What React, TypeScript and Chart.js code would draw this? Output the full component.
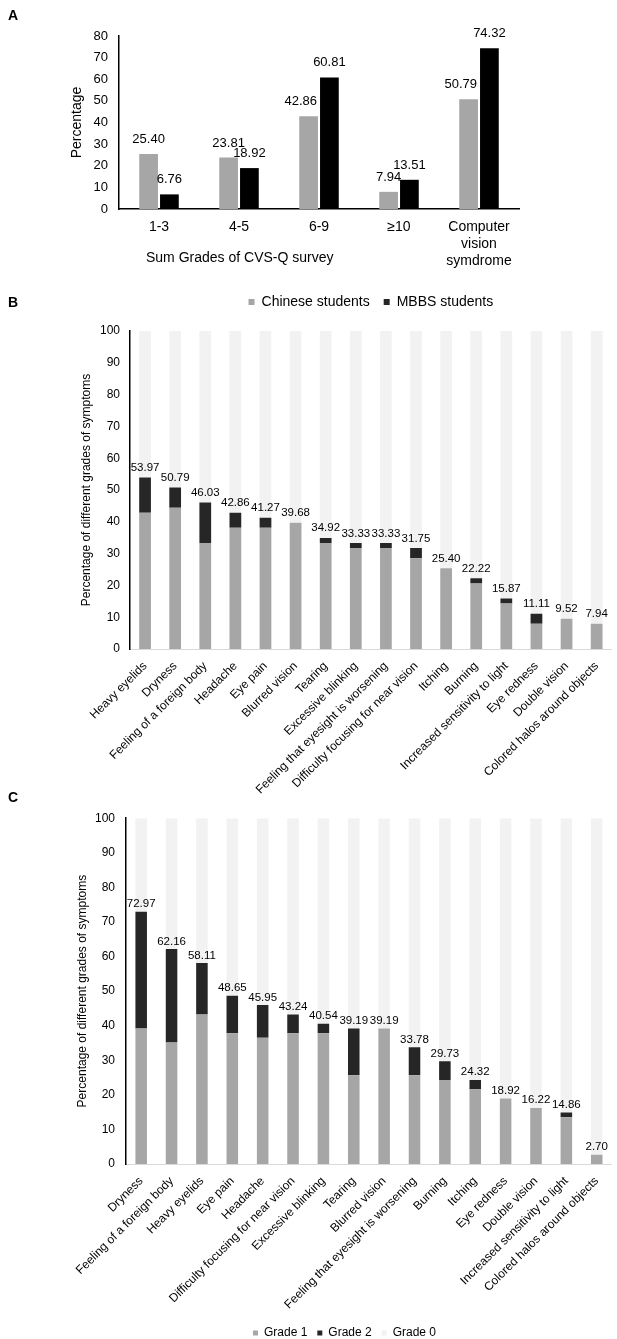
import React, { useEffect, useRef } from 'react';
import { Chart, registerables } from 'chart.js';

Chart.register(...registerables);

const FONT = "'Liberation Sans', Arial, Helvetica, sans-serif";
Chart.defaults.font.family = FONT;
Chart.defaults.color = '#000';

// ---------- Panel A ----------
const gradeCategories: (string | string[])[] = ['1-3', '4-5', '6-9', '≥10', ['Computer', 'vision', 'symdrome']];
const chineseSum = [25.4, 23.81, 42.86, 7.94, 50.79];
const mbbsSum = [6.76, 18.92, 60.81, 13.51, 74.32];

// ---------- Panel B (Chinese students) ----------
const symptomsB = [
  'Heavy eyelids', 'Dryness', 'Feeling of a foreign body', 'Headache', 'Eye pain', 'Blurred vision',
  'Tearing', 'Excessive blinking', 'Feeling that eyesight is worsening', 'Difficulty focusing for near vision',
  'Itching', 'Burning', 'Increased sensitivity to light', 'Eye redness', 'Double vision', 'Colored halos around objects',
];
const totalB = [53.97, 50.79, 46.03, 42.86, 41.27, 39.68, 34.92, 33.33, 33.33, 31.75, 25.4, 22.22, 15.87, 11.11, 9.52, 7.94];
const grade1B = [42.86, 44.44, 33.33, 38.1, 38.1, 39.68, 33.33, 31.75, 31.75, 28.57, 25.4, 20.63, 14.29, 7.94, 9.52, 7.94];

// ---------- Panel C (MBBS students) ----------
const symptomsC = [
  'Dryness', 'Feeling of a foreign body', 'Heavy eyelids', 'Eye pain', 'Headache', 'Difficulty focusing for near vision',
  'Excessive blinking', 'Tearing', 'Blurred vision', 'Feeling that eyesight is worsening', 'Burning', 'Itching',
  'Eye redness', 'Double vision', 'Increased sensitivity to light', 'Colored halos around objects',
];
const totalC = [72.97, 62.16, 58.11, 48.65, 45.95, 43.24, 40.54, 39.19, 39.19, 33.78, 29.73, 24.32, 18.92, 16.22, 14.86, 2.7];
const grade1C = [39.19, 35.14, 43.24, 37.84, 36.49, 37.84, 37.84, 25.68, 39.19, 25.68, 24.32, 21.62, 18.92, 16.22, 13.51, 2.7];

const minus = (a: number[], b: number[]) => a.map((v, i) => +(v - b[i]).toFixed(2));
const rest = (a: number[]) => a.map((v) => +(100 - v).toFixed(2));

const GREY = '#a6a6a6';
const DARK = '#262626';
const LIGHT = '#f2f2f2';

// value labels above clustered bars; a grey label that would run into the taller
// neighbouring black bar is nudged to the left of it (as the spreadsheet does)
function groupLabels(values: number[][], size: number, gap: number) {
  return {
    id: 'groupLabels',
    afterDatasetsDraw(chart: any) {
      const ctx = chart.ctx;
      ctx.save();
      ctx.font = `${size}px ${FONT}`;
      ctx.fillStyle = '#000';
      ctx.textAlign = 'center';
      ctx.textBaseline = 'alphabetic';
      const m0 = chart.getDatasetMeta(0);
      const m1 = chart.getDatasetMeta(1);
      values.forEach((vals, di) => {
        const meta = chart.getDatasetMeta(di);
        meta.data.forEach((el: any, j: number) => {
          const text = vals[j].toFixed(2);
          let x = el.x;
          const y = el.y - gap;
          if (di === 0) {
            const nb = m1.data[j];
            const w = ctx.measureText(text).width;
            const mid = y - size * 0.38;
            if (nb && nb.y < mid) {
              const limit = nb.x - nb.width / 2 - 3 - w / 2;
              if (x > limit) x = limit;
            }
          }
          ctx.fillText(text, x, y);
        });
      });
      void m0;
      ctx.restore();
    },
  };
}

function stackLabels(totals: number[], topIndex: number, size: number, gap: number) {
  return {
    id: 'stackLabels',
    afterDatasetsDraw(chart: any) {
      const ctx = chart.ctx;
      ctx.save();
      ctx.font = `${size}px ${FONT}`;
      ctx.fillStyle = '#000';
      ctx.textAlign = 'center';
      ctx.textBaseline = 'alphabetic';
      const meta = chart.getDatasetMeta(topIndex);
      meta.data.forEach((el: any, j: number) => {
        ctx.fillText(totals[j].toFixed(2), el.x, el.y - gap);
      });
      ctx.restore();
    },
  };
}

function legendFit(delta: number) {
  return {
    id: 'legendFit',
    beforeLayout(chart: any) {
      const lg = chart.legend;
      if (lg && !lg.__patched) {
        const orig = lg.fit;
        lg.fit = function () {
          orig.call(this);
          this.height += delta;
        };
        lg.__patched = true;
      }
    },
  };
}

function configA(): any {
  return {
    type: 'bar',
    data: {
      labels: gradeCategories,
      datasets: [
        { label: 'Chinese students', data: chineseSum, backgroundColor: GREY, borderWidth: 0, categoryPercentage: 0.52, barPercentage: 0.9 },
        { label: 'MBBS students', data: mbbsSum, backgroundColor: '#000000', borderWidth: 0, categoryPercentage: 0.52, barPercentage: 0.9 },
      ],
    },
    options: {
      animation: false,
      responsive: true,
      maintainAspectRatio: false,
      layout: { padding: { top: 36, right: 98, left: 0, bottom: 0 } },
      plugins: { legend: { display: false }, tooltip: { enabled: false } },
      scales: {
        x: {
          grid: { display: false, drawTicks: false },
          border: { display: true, color: '#000', width: 1.5 },
          ticks: { font: { size: 14 }, color: '#000', padding: 10, maxRotation: 0, autoSkip: false },
          afterFit: (s: any) => { s.height = 66; },
        },
        y: {
          min: 0,
          max: 80,
          ticks: { stepSize: 10, font: { size: 13 }, color: '#000', padding: 11 },
          grid: { display: false, drawTicks: false },
          border: { display: true, color: '#000', width: 1.5 },
          title: { display: true, text: 'Percentage', font: { size: 14 }, color: '#000', padding: { top: 68.6, bottom: 0 } },
          afterFit: (s: any) => { s.width = 119; },
        },
      },
    },
    plugins: [groupLabels([chineseSum, mbbsSum], 13, 11)],
  };
}

function stackedConfig(opts: {
  labels: string[];
  names: string[];
  totals: number[];
  grade1: number[];
  yWidth: number;
  xHeight: number;
  padding: any;
  titlePad: number;
  tickPad: number;
  legend: any;
  legendDelta: number;
  labelGap: number;
  barPct: number;
}): any {
  const grade2 = minus(opts.totals, opts.grade1);
  const grade0 = rest(opts.totals);
  const ds = (label: string, data: number[], color: string) => ({
    label,
    data,
    backgroundColor: color,
    borderWidth: 0,
    barPercentage: opts.barPct,
    categoryPercentage: 1,
  });
  return {
    type: 'bar',
    data: {
      labels: opts.labels,
      datasets: [
        ds(opts.names[0], opts.grade1, GREY),
        ds(opts.names[1], grade2, DARK),
        ds(opts.names[2], grade0, LIGHT),
      ],
    },
    options: {
      animation: false,
      responsive: true,
      maintainAspectRatio: false,
      layout: { padding: opts.padding },
      plugins: { legend: opts.legend, tooltip: { enabled: false } },
      scales: {
        x: {
          stacked: true,
          grid: { display: false, drawTicks: false },
          border: { display: true, color: '#d9d9d9', width: 1 },
          ticks: { font: { size: 12 }, color: '#000', padding: 10, minRotation: 45, maxRotation: 45, autoSkip: false },
          afterFit: (s: any) => { s.height = opts.xHeight; },
        },
        y: {
          stacked: true,
          min: 0,
          max: 100,
          ticks: { stepSize: 10, font: { size: 12 }, color: '#000', padding: opts.tickPad },
          grid: { display: false, drawTicks: false },
          border: { display: true, color: '#000', width: 1.5 },
          title: {
            display: true,
            text: 'Percentage of different grades of symptoms',
            font: { size: 12 },
            color: '#000',
            padding: { top: opts.titlePad, bottom: 0 },
          },
          afterFit: (s: any) => { s.width = opts.yWidth; },
        },
      },
    },
    plugins: [stackLabels(opts.totals, 1, 11.5, opts.labelGap), legendFit(opts.legendDelta)],
  };
}

function configB(): any {
  return stackedConfig({
    labels: symptomsB,
    names: ['Chinese students', 'MBBS students', 'Grade 0'],
    totals: totalB,
    grade1: grade1B,
    yWidth: 130,
    xHeight: 151,
    padding: { top: 1, left: 0, right: 1, bottom: 0 },
    titlePad: 79.8,
    tickPad: 10,
    legend: {
      display: true,
      position: 'top',
      fullSize: false,
      labels: {
        font: { size: 14 },
        color: '#000',
        boxWidth: 6,
        boxHeight: 6,
        padding: 14,
        filter: (item: any) => item.datasetIndex !== 2,
      },
    },
    legendDelta: 12,
    labelGap: 6.5,
    barPct: 0.39,
  });
}

function configC(): any {
  return stackedConfig({
    labels: symptomsC,
    names: ['Grade 1', 'Grade 2', 'Grade 0'],
    totals: totalC,
    grade1: grade1C,
    yWidth: 51,
    xHeight: 153,
    padding: { top: 10, left: 75, right: 3, bottom: 0 },
    titlePad: 0.8,
    tickPad: 11,
    legend: {
      display: true,
      position: 'bottom',
      fullSize: true,
      labels: { font: { size: 12 }, color: '#000', boxWidth: 5, boxHeight: 5, padding: 10 },
    },
    legendDelta: -10,
    labelGap: 4.5,
    barPct: 0.38,
  });
}

function ChartBox({ top, height, make }: { top: number; height: number; make: () => any }) {
  const ref = useRef<HTMLCanvasElement | null>(null);
  useEffect(() => {
    if (!ref.current) return;
    const chart = new Chart(ref.current, make());
    return () => chart.destroy();
  }, []);
  return (
    <div style={{ position: 'absolute', left: 0, top, width: 617, height }}>
      <canvas ref={ref} />
    </div>
  );
}

const letterStyle: React.CSSProperties = {
  position: 'absolute',
  left: 8,
  fontFamily: FONT,
  fontWeight: 'bold',
  fontSize: 14,
  lineHeight: '16px',
  color: '#000',
};

export default function App() {
  return (
    <div style={{ position: 'absolute', left: 0, top: 0, width: 617, height: 1339, overflow: 'hidden', background: '#fff' }}>
      <ChartBox top={0} height={275} make={configA} />
      <ChartBox top={280} height={520} make={configB} />
      <ChartBox top={800} height={539} make={configC} />
      <div style={{ ...letterStyle, top: 7 }}>A</div>
      <div style={{ ...letterStyle, top: 294 }}>B</div>
      <div style={{ ...letterStyle, top: 789 }}>C</div>
      <div
        style={{
          position: 'absolute',
          left: 146,
          top: 249,
          fontFamily: FONT,
          fontSize: 14,
          lineHeight: '16px',
          color: '#000',
          whiteSpace: 'nowrap',
        }}
      >
        Sum Grades of CVS-Q survey
      </div>
    </div>
  );
}
